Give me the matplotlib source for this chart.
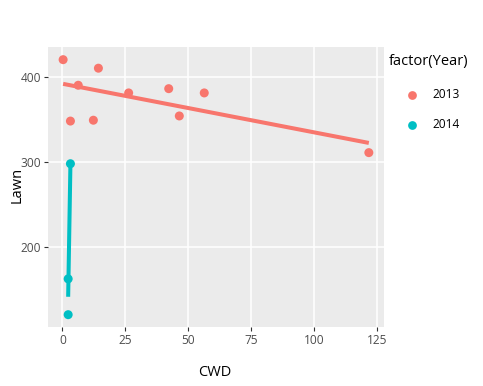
import numpy as np
import matplotlib
matplotlib.use("Agg")
import matplotlib.pyplot as plt
from matplotlib.lines import Line2D

plt.rcParams['font.family'] = ['Open Sans', 'DejaVu Sans']

cwd_2013 = [0.3, 14.3, 6.3, 3.2, 12.3, 26.3, 42.2, 46.4, 56.3, 121.6]
lawn_2013 = [420, 410, 390, 348, 349, 381, 386, 354, 381, 311]
cwd_2014 = [3.2, 2.3, 2.3]
lawn_2014 = [298, 163, 121]
years = ['2013', '2014']
colors = ['#F8766D', '#00BFC4']
x_ticks = [0, 25, 50, 75, 100, 125]
y_ticks = [200, 300, 400]

fig = plt.figure(figsize=(4.83, 3.86), dpi=100)
ax = fig.add_axes([48/483, 1-327.3/386, (383.7-48)/483, (327.3-46.7)/386])
ax.set_facecolor('#EBEBEB')
for s in ax.spines.values():
    s.set_visible(False)
ax.grid(True, color='white', linewidth=1.1)
ax.set_axisbelow(True)

for xs, ys, c in [(cwd_2013, lawn_2013, colors[0]), (cwd_2014, lawn_2014, colors[1])]:
    xs = np.array(xs); ys = np.array(ys)
    m, b = np.polyfit(xs, ys, 1)
    xl = np.array([xs.min(), xs.max()])
    ax.plot(xl, m*xl + b, color=c, linewidth=2.9, solid_capstyle='butt', zorder=2)
    ax.scatter(xs, ys, s=42, color=c, edgecolors='none', zorder=3)

ax.set_xlim(-5.7, 127.5)
ax.set_ylim(106.2, 435.2)
ax.set_xticks(x_ticks)
ax.set_yticks(y_ticks)
ax.tick_params(axis='both', colors='#333333', labelcolor='#4D4D4D', labelsize=8.6, length=3, width=0.8, pad=2)

fig.text(215/483, 1-373/386, 'CWD', ha='center', va='center', fontsize=10.5, color='black')
fig.text(17/483, 1-185/386, 'Lawn', ha='center', va='center', rotation=90, fontsize=10.5, color='black')

fig.text(389/483, 1-62/386, 'factor(Year)', ha='left', va='center', fontsize=10.5, color='black')
for i, (yr, c) in enumerate(zip(years, colors)):
    yp = 1 - (95 + 30*i)/386
    fig.add_artist(Line2D([412/483], [yp], marker='o', markersize=6.3, color=c, markeredgewidth=0, linestyle='none'))
    fig.text(432/483, yp, yr, ha='left', va='center', fontsize=8.6, color='black')

fig.savefig('out.png', dpi=100)
